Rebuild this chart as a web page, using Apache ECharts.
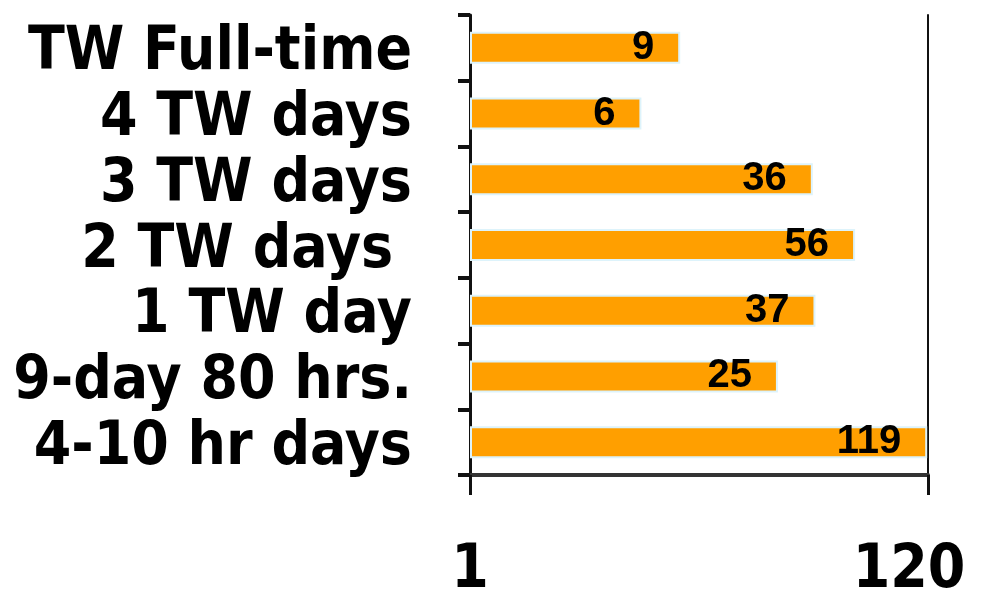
<!DOCTYPE html>
<html><head><meta charset="utf-8">
<script src="https://cdn.jsdelivr.net/npm/echarts@6/dist/echarts.min.js"></script>
<style>html,body{margin:0;padding:0;background:#fff}#c{width:985px;height:593px}</style>
</head><body><div id="c"></div>
<script>
var categories = ['TW Full-time', '4 TW days', '3 TW days', '2 TW days ', '1 TW day', '9-day 80 hrs.', '4-10 hr days'];
var values = [9, 6, 36, 56, 37, 25, 119];
var tickLabels = [1, 120];

var F = '"DejaVu Sans Condensed", "DejaVu Sans"';
var chart = echarts.init(document.getElementById('c'));
chart.setOption({
  animation: false,
  backgroundColor: '#fff',
  grid: { left: 470, right: 57, top: 15, bottom: 118, outerBoundsMode: 'none', containLabel: false },
  xAxis: {
    type: 'log', min: 1, max: 120, logBase: 10,
    axisLine: { show: true, lineStyle: { color: '#333', width: 4 } },
    axisTick: { show: true, customValues: tickLabels, length: 20, lineStyle: { color: '#111', width: 3 } },
    splitLine: { show: false },
    axisLabel: {
      customValues: tickLabels, margin: 66,
      fontFamily: F, fontWeight: 'bold', fontSize: 60, color: '#000',
      formatter: function (v) { return v === 120 ? '{r|' + v + '}' : '{l|' + v + '}'; },
      rich: {
        r: { fontFamily: F, fontWeight: 'bold', fontSize: 60, color: '#000', padding: [0, 38, 0, 0] },
        l: { fontFamily: F, fontWeight: 'bold', fontSize: 60, color: '#000' }
      }
    }
  },
  yAxis: [{
    type: 'category', data: categories, inverse: true,
    axisLine: { show: true, lineStyle: { color: '#111', width: 3 } },
    axisTick: { show: true, interval: 0, length: 12, lineStyle: { color: '#111', width: 4 } },
    axisLabel: {
      interval: 0, margin: 58, fontFamily: F, fontWeight: 'bold', fontSize: 60, color: '#000',
      formatter: function (v) { return '{c|' + v + '}'; },
      rich: { c: { fontFamily: F, fontWeight: 'bold', fontSize: 60, color: '#000', padding: [12, 0, 0, 0] } }
    }
  }, {
    type: 'category', data: categories, inverse: true, position: 'right',
    axisLine: { show: true, lineStyle: { color: '#111', width: 2 } },
    axisTick: { show: false }, axisLabel: { show: false }
  }],
  series: [{
    type: 'bar', data: values, barWidth: 32,
    itemStyle: { color: '#FF9F00', borderColor: '#DDF3FB', borderWidth: 2 },
    label: {
      show: true, position: 'insideRight', distance: 26,
      fontFamily: '"Liberation Sans Narrow", "Liberation Sans", Arial', fontWeight: 'bold', fontSize: 40, color: '#000'
    }
  }]
});
</script></body></html>
